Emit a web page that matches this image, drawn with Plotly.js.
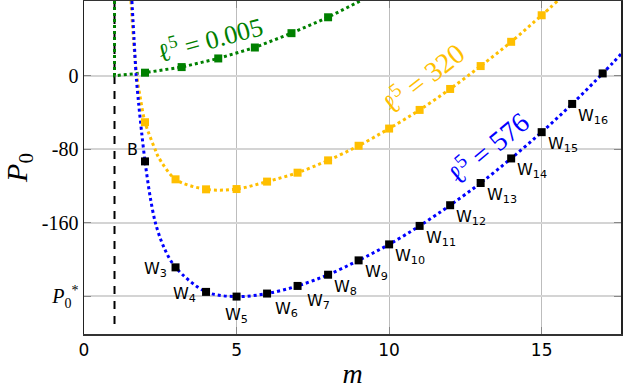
<!DOCTYPE html>
<html><head><meta charset="utf-8">
<script src="https://cdn.plot.ly/plotly-3.0.1.min.js"></script>
<style>html,body{margin:0;padding:0;background:#fff}#chart{width:623px;height:389px}</style>
</head><body><div id="chart"></div>
<script>
// ---- data ----
// vertical asymptote m = 1
const asymM = [1, 1];
const asymP = [81.3, -272];

// l^5 = 0.005 (green)
const greenLineM = [1, 1, 2, 3.2, 4.4, 5.6, 6.8, 8.0, 9.05];
const greenLineP = [81.3, 0, 3.3, 9.4, 18.8, 30.7, 46.3, 63.6, 81.3];
const greenMarkM = [2, 3.2, 4.4, 5.6, 6.8, 8.0];
const greenMarkP = [3.3, 9.4, 18.8, 30.7, 46.3, 63.6];

// l^5 = 320 (yellow)
const yellowLineM = [1.54, 1.62, 1.73, 1.85, 2, 2.34, 2.44, 3, 4, 5, 6, 7, 8, 9, 10, 11, 12, 13, 14, 15, 15.52];
const yellowLineP = [81.3, 40, 0, -25, -50.6, -81, -88.5, -112.7, -123.6, -123.3, -115.2, -105.5, -92.1, -76.2, -57.5, -37.2, -14.4, 10.5, 36.9, 65.8, 81.3];
const yellowMarkM = [2, 3, 4, 5, 6, 7, 8, 9, 10, 11, 12, 13, 14, 15];
const yellowMarkP = [-50.6, -112.7, -123.6, -123.3, -115.2, -105.5, -92.1, -76.2, -57.5, -37.2, -14.4, 10.5, 36.9, 65.8];

// l^5 = 576 (blue)
const blueLineM = [1.57, 1.64, 1.71, 1.79, 1.89, 2, 2.17, 2.34, 2.61, 3, 4, 5, 6, 7, 8, 9, 10, 11, 12, 13, 14, 15, 16, 17, 17.6];
const blueLineP = [81.3, 40, 0, -30, -62, -93.2, -132, -160, -186, -208.5, -235.2, -240.3, -237, -228.7, -216.5, -200.9, -183.5, -163.4, -140.9, -116.7, -90, -61.4, -30.7, 2.5, 23.5];
const blueMarkM = [2, 3, 4, 5, 6, 7, 8, 9, 10, 11, 12, 13, 14, 15, 16, 17];
const blueMarkP = [-93.2, -208.5, -235.2, -240.3, -237, -228.7, -216.5, -200.9, -183.5, -163.4, -140.9, -116.7, -90, -61.4, -30.7, 2.5];
const blueLabels = ['B', 'W<sub>3</sub>', 'W<sub>4</sub>', 'W<sub>5</sub>', 'W<sub>6</sub>', 'W<sub>7</sub>', 'W<sub>8</sub>', 'W<sub>9</sub>', 'W<sub>10</sub>', 'W<sub>11</sub>', 'W<sub>12</sub>', 'W<sub>13</sub>', 'W<sub>14</sub>', 'W<sub>15</sub>', 'W<sub>16</sub>', ''];

// axis ticks
const xTickVals = [0, 5, 10, 15];
const xTickText = ['0', '5', '10', '15'];
const yTickVals = [0, -80, -160, -240];
const yTickText = ['0', '-80', '-160', '<i>P</i><sub>0</sub><sup>*</sup>'];

// ---- styles ----
const GREEN = '#008000', YELLOW = '#FFBF00', BLUE = '#0000FF';
const SERIF = 'Liberation Serif, Times New Roman, serif';
const SANS = 'DejaVu Sans, sans-serif';

function lineTrace(x, y, color, shape) {
  return {x, y, type: 'scatter', mode: 'lines', hoverinfo: 'skip',
    line: {color, width: 3, dash: 'dot', shape: shape, smoothing: 0.9}};
}
function markTrace(x, y, color) {
  return {x, y, type: 'scatter', mode: 'markers', hoverinfo: 'skip',
    marker: {symbol: 'square', size: 8, color, line: {width: 0}}};
}

const traces = [
  {x: asymM, y: asymP, type: 'scatter', mode: 'lines', line: {color: '#000', width: 2, dash: '8px,7px'}},
  lineTrace(greenLineM, greenLineP, GREEN, 'linear'),
  lineTrace(yellowLineM, yellowLineP, YELLOW, 'spline'),
  lineTrace(blueLineM, blueLineP, BLUE, 'spline'),
  markTrace(greenMarkM, greenMarkP, GREEN),
  markTrace(yellowMarkM, yellowMarkP, YELLOW),
  markTrace(blueMarkM, blueMarkP, '#000')
];

// label placement around each blue marker
function placement(i) {
  if (i === 0) return {xanchor: 'center', yanchor: 'middle', xshift: -13, yshift: 12};
  if (i === 1) return {xanchor: 'right', yanchor: 'middle', xshift: -7, yshift: -2};
  if (i === 2) return {xanchor: 'right', yanchor: 'middle', xshift: -8, yshift: -3};
  if (i === 3) return {xanchor: 'center', yanchor: 'top', xshift: 0, yshift: -6};
  if (i === 4) return {xanchor: 'left', yanchor: 'top', xshift: 6, yshift: -3};
  if (i === 5) return {xanchor: 'left', yanchor: 'top', xshift: 7, yshift: -3};
  return {xanchor: 'left', yanchor: 'top', xshift: 4, yshift: 0};
}
const annotations = [];
blueLabels.forEach((t, i) => {
  if (!t) return;
  annotations.push(Object.assign({x: blueMarkM[i], y: blueMarkP[i], xref: 'x', yref: 'y', text: t,
    showarrow: false, font: {family: SANS, size: 16, color: '#000'}}, placement(i)));
});
annotations.push(
  {x: 4.12, y: 40.1, xref: 'x', yref: 'y', text: 'ℓ<sup>5</sup> = 0.005', showarrow: false,
    textangle: -15, font: {family: SERIF, size: 26, color: GREEN}},
  {x: 11.1, y: -2, xref: 'x', yref: 'y', text: 'ℓ<sup>5</sup> = 320', showarrow: false,
    textangle: -38, font: {family: SERIF, size: 28, color: YELLOW}},
  {x: 13.22, y: -78, xref: 'x', yref: 'y', text: 'ℓ<sup>5</sup> = 576', showarrow: false,
    textangle: -40, font: {family: SERIF, size: 28, color: BLUE}}
);

const layout = {
  width: 623, height: 389,
  margin: {l: 84, r: 2, t: 1, b: 55},
  paper_bgcolor: '#fff', plot_bgcolor: '#fff',
  showlegend: false,
  xaxis: {
    range: [0, 17.6], tickvals: xTickVals, ticktext: xTickText,
    showgrid: true, gridcolor: '#bdbdbd', gridwidth: 1, zeroline: false,
    showline: true, linecolor: '#333', linewidth: 1.5, mirror: 'ticks',
    ticks: 'inside', ticklen: 7, tickcolor: '#888', tickwidth: 1,
    tickfont: {family: SANS, size: 17, color: '#000'},
    title: {text: '<i>m</i>', font: {family: SERIF, size: 28, color: '#000'}, standoff: 6}
  },
  yaxis: {
    range: [-281, 81.3], tickvals: yTickVals, ticktext: yTickText,
    showgrid: true, gridcolor: '#d4d4d4', gridwidth: 2, zeroline: false,
    showline: true, linecolor: '#222', linewidth: 1.5, mirror: 'ticks',
    ticks: 'inside', ticklen: 7, tickcolor: '#888', tickwidth: 1,
    tickfont: {family: SERIF, size: 20, color: '#000'},
    title: {text: '<i>P</i><sub>0</sub>', font: {family: SERIF, size: 30, color: '#000'}, standoff: 8}
  },
  annotations
};

Plotly.newPlot('chart', traces, layout, {staticPlot: true, displayModeBar: false});
</script>
</body></html>
